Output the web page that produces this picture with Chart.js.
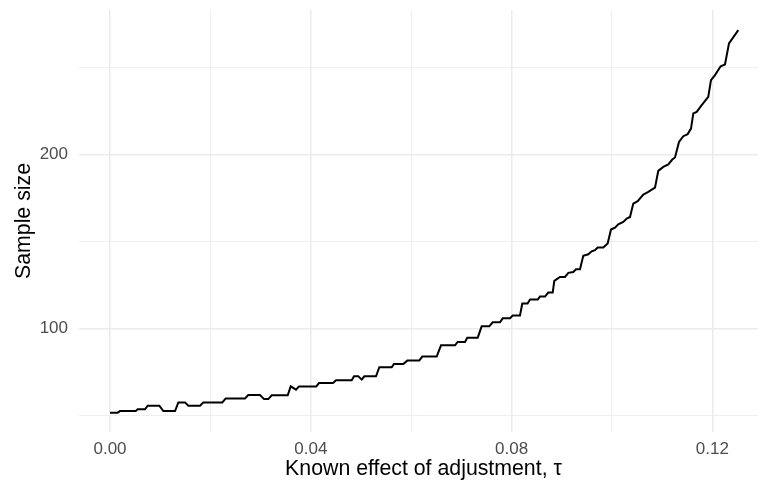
<!DOCTYPE html>
<html>
<head>
<meta charset="utf-8">
<script src="https://cdn.jsdelivr.net/npm/chart.js@4"></script>
<style>
  html, body { margin: 0; background: #fff; overflow: hidden; width: 758px; height: 485px; }
  canvas { display: block; }
</style>
</head>
<body>
<!-- the ggplot panel runs a little past the right edge, so the canvas is wider than the window -->
<canvas id="sizeChart" width="768" height="485"></canvas>
<script>
// known effect of adjustment (tau) and the sample size needed
const tau = [0, 0.00153, 0.00199, 0.00512, 0.00552, 0.00697, 0.00751, 0.00982, 0.01062, 0.01295,
  0.01361, 0.01494, 0.0156, 0.01793, 0.01859, 0.02237, 0.02305, 0.02689, 0.02755, 0.02988,
  0.03068, 0.03153, 0.03221, 0.0354, 0.036, 0.03705, 0.03765, 0.0411, 0.04163, 0.04442,
  0.04502, 0.04815, 0.04861, 0.04946, 0.05014, 0.05066, 0.05299, 0.05365, 0.05612, 0.05657,
  0.05843, 0.05922, 0.06161, 0.06221, 0.06508, 0.06594, 0.06873, 0.06926, 0.07072, 0.07118,
  0.07325, 0.07404, 0.07556, 0.07623, 0.07769, 0.07823, 0.07968, 0.08022, 0.08167, 0.08213,
  0.08319, 0.08367, 0.0852, 0.08566, 0.08665, 0.08731, 0.08819, 0.08851, 0.08964, 0.09064,
  0.0913, 0.09229, 0.09283, 0.09363, 0.09428, 0.09528, 0.09596, 0.09661, 0.09715, 0.09827,
  0.09914, 0.0998, 0.1006, 0.10125, 0.10225, 0.10293, 0.10359, 0.10424, 0.10512, 0.10624,
  0.10723, 0.10857, 0.10922, 0.11022, 0.11122, 0.11201, 0.11255, 0.11335, 0.1142, 0.11508,
  0.11574, 0.1162, 0.11687, 0.11787, 0.11918, 0.11972, 0.12052, 0.12165, 0.12251, 0.12331,
  0.12516];

const sampleSize = [51.7, 51.7, 52.6, 52.6, 53.6, 53.6, 55.7, 55.7, 52.6, 52.6,
  57.6, 57.6, 55.7, 55.7, 57.6, 57.6, 59.9, 59.9, 61.8, 61.8,
  59.5, 59.5, 61.7, 61.7, 66.8, 64.9, 66.8, 66.8, 68.7, 68.7,
  70.3, 70.3, 72.6, 72.6, 70.7, 72.6, 72.6, 77.8, 77.8, 79.7,
  79.7, 81.6, 81.6, 83.9, 83.9, 90.4, 90.4, 92.3, 92.3, 94.8,
  94.8, 101.3, 101.3, 103.6, 103.6, 105.9, 105.9, 107.5, 107.5, 114.4,
  114.4, 116.7, 116.7, 118.4, 118.4, 120.7, 120.7, 127.4, 129.7, 129.7,
  132.0, 132.5, 134.1, 134.1, 141.8, 142.7, 144.4, 145.0, 146.6, 146.6,
  148.9, 156.9, 158.0, 159.9, 161.3, 163.2, 164.1, 171.8, 173.2, 177.0,
  178.5, 181.0, 190.6, 192.9, 194.3, 197.1, 198.3, 207.2, 210.5, 211.7,
  214.9, 223.6, 224.5, 228.3, 233.1, 242.7, 245.6, 250.7, 251.7, 263.8,
  271.4];

// tick labels (major) and minor grid positions
const xMajorTicks = [0, 0.04, 0.08, 0.12];
const xMinorTicks = [0.02, 0.06, 0.10];
const yMajorTicks = [100, 200];
const yMinorTicks = [50, 150, 250];

const points = tau.map((t, i) => ({ x: t, y: sampleSize[i] }));

function isMajor(list, v) {
  return list.some(m => Math.abs(m - v) < 1e-9);
}

function setTicks(major, minor) {
  return function (scale) {
    scale.ticks = major.concat(minor).sort((a, b) => a - b).map(v => ({ value: v }));
  };
}

const font = 'Liberation Sans, Arial, sans-serif';
const ctx = document.getElementById('sizeChart').getContext('2d');
new Chart(ctx, {
  type: 'scatter',
  data: {
    datasets: [{
      data: points,
      showLine: true,
      borderColor: '#000000',
      borderWidth: 2,
      pointRadius: 0,
      fill: false,
      tension: 0
    }]
  },
  options: {
    responsive: false,
    animation: false,
    devicePixelRatio: 1,
    layout: { padding: { top: 10, right: 0, bottom: 0, left: 0 } },
    plugins: {
      legend: { display: false },
      tooltip: { enabled: false }
    },
    scales: {
      x: {
        type: 'linear',
        min: -0.00618,
        max: 0.13108,
        afterBuildTicks: setTicks(xMajorTicks, xMinorTicks),
        afterFit: function (scale) {
          scale.height = 53;
          scale.paddingLeft = 0;
          scale.paddingRight = 0;
        },
        border: { display: false },
        grid: {
          drawTicks: false,
          color: '#ebebeb',
          lineWidth: c => isMajor(xMajorTicks, c.tick.value) ? 1.5 : 0.8
        },
        ticks: {
          padding: 7,
          maxRotation: 0,
          autoSkip: false,
          color: '#4d4d4d',
          font: { family: font, size: 17 },
          callback: v => isMajor(xMajorTicks, v) ? v.toFixed(2) : ''
        },
        title: {
          display: true,
          text: 'Known effect of adjustment, τ',
          color: '#000000',
          font: { family: font, size: 21.3 },
          padding: { top: 0, bottom: 3 }
        }
      },
      y: {
        type: 'linear',
        min: 40.6,
        max: 283,
        afterBuildTicks: setTicks(yMajorTicks, yMinorTicks),
        afterFit: function (scale) {
          scale.width = 79;
          scale.paddingTop = 0;
          scale.paddingBottom = 0;
        },
        border: { display: false },
        grid: {
          drawTicks: false,
          color: '#ebebeb',
          lineWidth: c => isMajor(yMajorTicks, c.tick.value) ? 1.5 : 0.8
        },
        ticks: {
          padding: 11,
          autoSkip: false,
          color: '#4d4d4d',
          font: { family: font, size: 17 },
          callback: v => isMajor(yMajorTicks, v) ? String(v) : ''
        },
        title: {
          display: true,
          text: 'Sample size',
          color: '#000000',
          font: { family: font, size: 21.3 },
          padding: { top: 11, bottom: 0 }
        }
      }
    }
  }
});
</script>
</body>
</html>
